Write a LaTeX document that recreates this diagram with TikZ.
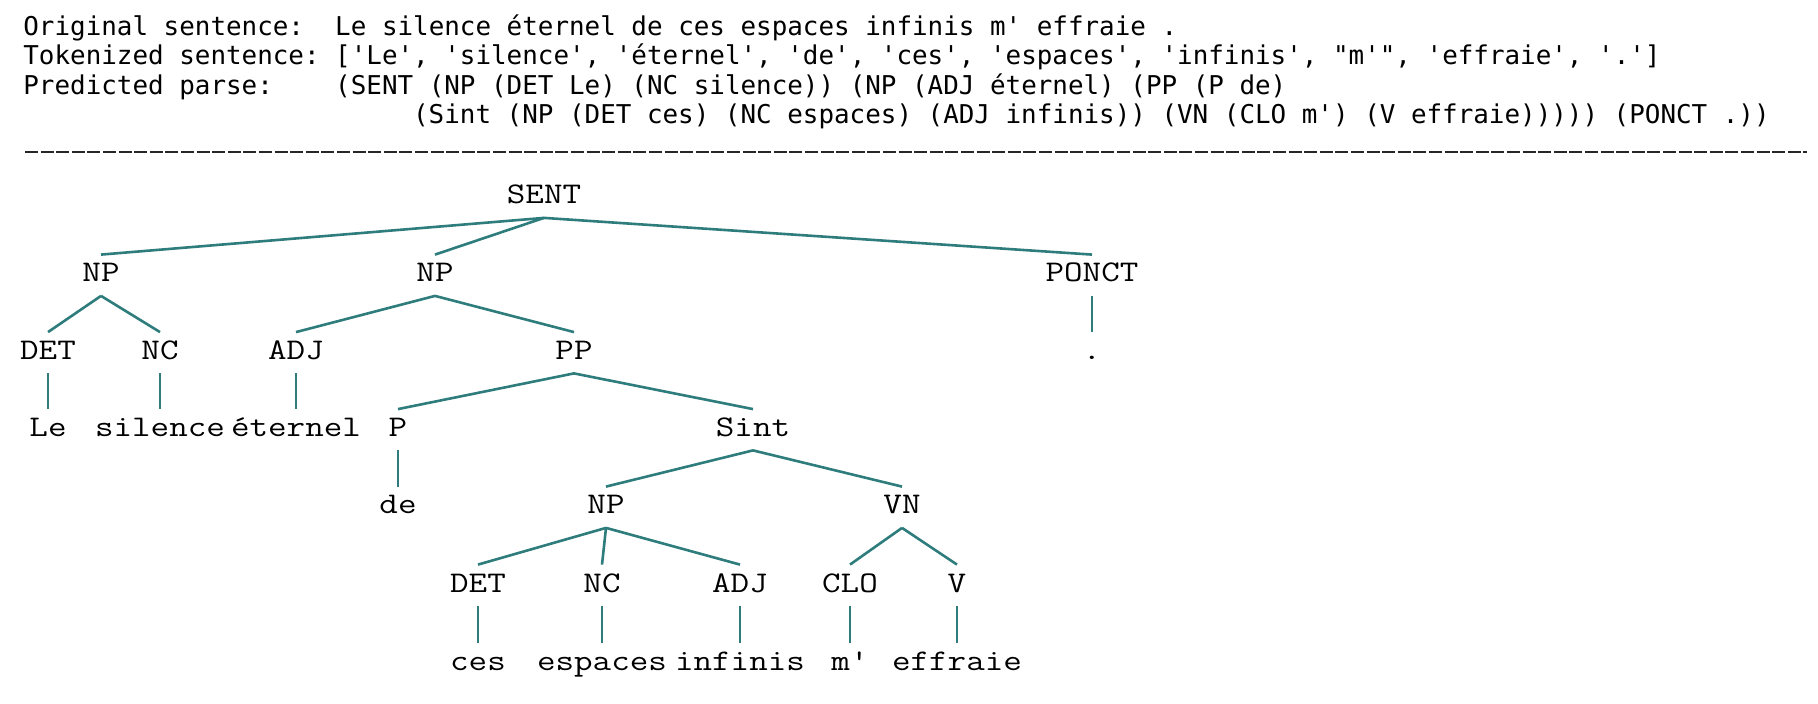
\documentclass[tikz,border=0pt]{standalone}
\usepackage{fontspec}
\usepackage{xcolor}
\usepackage{tikz}
\newfontfamily\codefont{DejaVu Sans Mono}
\definecolor{branchteal}{HTML}{2E7C7C}

\begin{document}
\begin{tikzpicture}[x=0.5pt, y=-0.5pt]
    % Stili
    \tikzstyle{codeline}=[anchor=base west, inner sep=0pt, font=\codefont\fontsize{12.95pt}{15pt}\selectfont\frenchspacing]
    \tikzstyle{treecat}=[anchor=base, inner sep=0pt, text height=13.5pt, text depth=6.75pt, font=\ttfamily\fontsize{15pt}{18pt}\selectfont, text=black, xscale=1.2, transform shape]
    \tikzstyle{branchline}=[draw=branchteal, line width=1.3pt]
    \tikzstyle{sepline}=[draw=black!85, line width=1.3pt, dash pattern=on 6.5pt off 1.3pt]

    \useasboundingbox (0,0) rectangle (1818,704);

    % Intestazione
    \node (orig) [codeline] at (23,35.5) {Original sentence:\ \ Le silence éternel de ces espaces infinis m' effraie .};
    \node (tok) [codeline] at (23,65) {Tokenized sentence: ['Le', 'silence', 'éternel', 'de', 'ces', 'espaces', 'infinis', "m'", 'effraie', '.']};
    \node (pred) [codeline] at (23,94.5) {Predicted parse:\ \ \ \ (SENT (NP (DET Le) (NC silence)) (NP (ADJ éternel) (PP (P de)};
    \node (predb) [codeline] at (412.75,124) {(Sint (NP (DET ces) (NC espaces) (ADJ infinis)) (VN (CLO m') (V effraie))))) (PONCT .))};

    % Separatore
    \coordinate (sepa) at (25,152);
    \coordinate (sepb) at (1807,152);
    \draw [sepline] (sepa) -- (sepb);

    % Albero
    \node (sent) [treecat] at (544,204) {SENT};

    \node (npa) [treecat] at (101,282) {NP};
    \node (npb) [treecat] at (435,282) {NP};
    \node (ponct) [treecat] at (1092,282) {PONCT};

    \node (deta) [treecat] at (48,359.5) {DET};
    \node (nca) [treecat] at (160,359.5) {NC};
    \node (adja) [treecat] at (296,359.5) {ADJ};
    \node (pp) [treecat] at (574,359.5) {PP};
    \node (dot) [treecat] at (1092,359.5) {.};

    \node (le) [treecat] at (48,436.5) {Le};
    \node (silence) [treecat] at (160,436.5) {silence};
    \node (eternel) [treecat] at (296,436.5) {éternel};
    \node (p) [treecat] at (398,436.5) {P};
    \node (sint) [treecat] at (753,436.5) {Sint};

    \node (de) [treecat] at (398,514) {de};
    \node (npc) [treecat] at (606,514) {NP};
    \node (vn) [treecat] at (902,514) {VN};

    \node (detb) [treecat] at (478,592) {DET};
    \node (ncb) [treecat] at (602,592) {NC};
    \node (adjb) [treecat] at (740,592) {ADJ};
    \node (clo) [treecat] at (850,592) {CLO};
    \node (v) [treecat] at (957,592) {V};

    \node (ces) [treecat] at (478,670) {ces};
    \node (espaces) [treecat] at (602,670) {espaces};
    \node (infinis) [treecat] at (740,670) {infinis};
    \node (m) [treecat] at (850,670) {m'};
    \node (effraie) [treecat] at (957,670) {effraie};

    % Rami
    \draw [branchline] (sent.south) -- (npa.north);
    \draw [branchline] (sent.south) -- (npb.north);
    \draw [branchline] (sent.south) -- (ponct.north);
    \draw [branchline] (npa.south) -- (deta.north);
    \draw [branchline] (npa.south) -- (nca.north);
    \draw [branchline] (deta.south) -- (le.north);
    \draw [branchline] (nca.south) -- (silence.north);
    \draw [branchline] (npb.south) -- (adja.north);
    \draw [branchline] (npb.south) -- (pp.north);
    \draw [branchline] (adja.south) -- (eternel.north);
    \draw [branchline] (pp.south) -- (p.north);
    \draw [branchline] (pp.south) -- (sint.north);
    \draw [branchline] (p.south) -- (de.north);
    \draw [branchline] (sint.south) -- (npc.north);
    \draw [branchline] (sint.south) -- (vn.north);
    \draw [branchline] (npc.south) -- (detb.north);
    \draw [branchline] (npc.south) -- (ncb.north);
    \draw [branchline] (npc.south) -- (adjb.north);
    \draw [branchline] (vn.south) -- (clo.north);
    \draw [branchline] (vn.south) -- (v.north);
    \draw [branchline] (detb.south) -- (ces.north);
    \draw [branchline] (ncb.south) -- (espaces.north);
    \draw [branchline] (adjb.south) -- (infinis.north);
    \draw [branchline] (clo.south) -- (m.north);
    \draw [branchline] (v.south) -- (effraie.north);
    \draw [branchline] (ponct.south) -- (dot.north);

\end{tikzpicture}
\end{document}
